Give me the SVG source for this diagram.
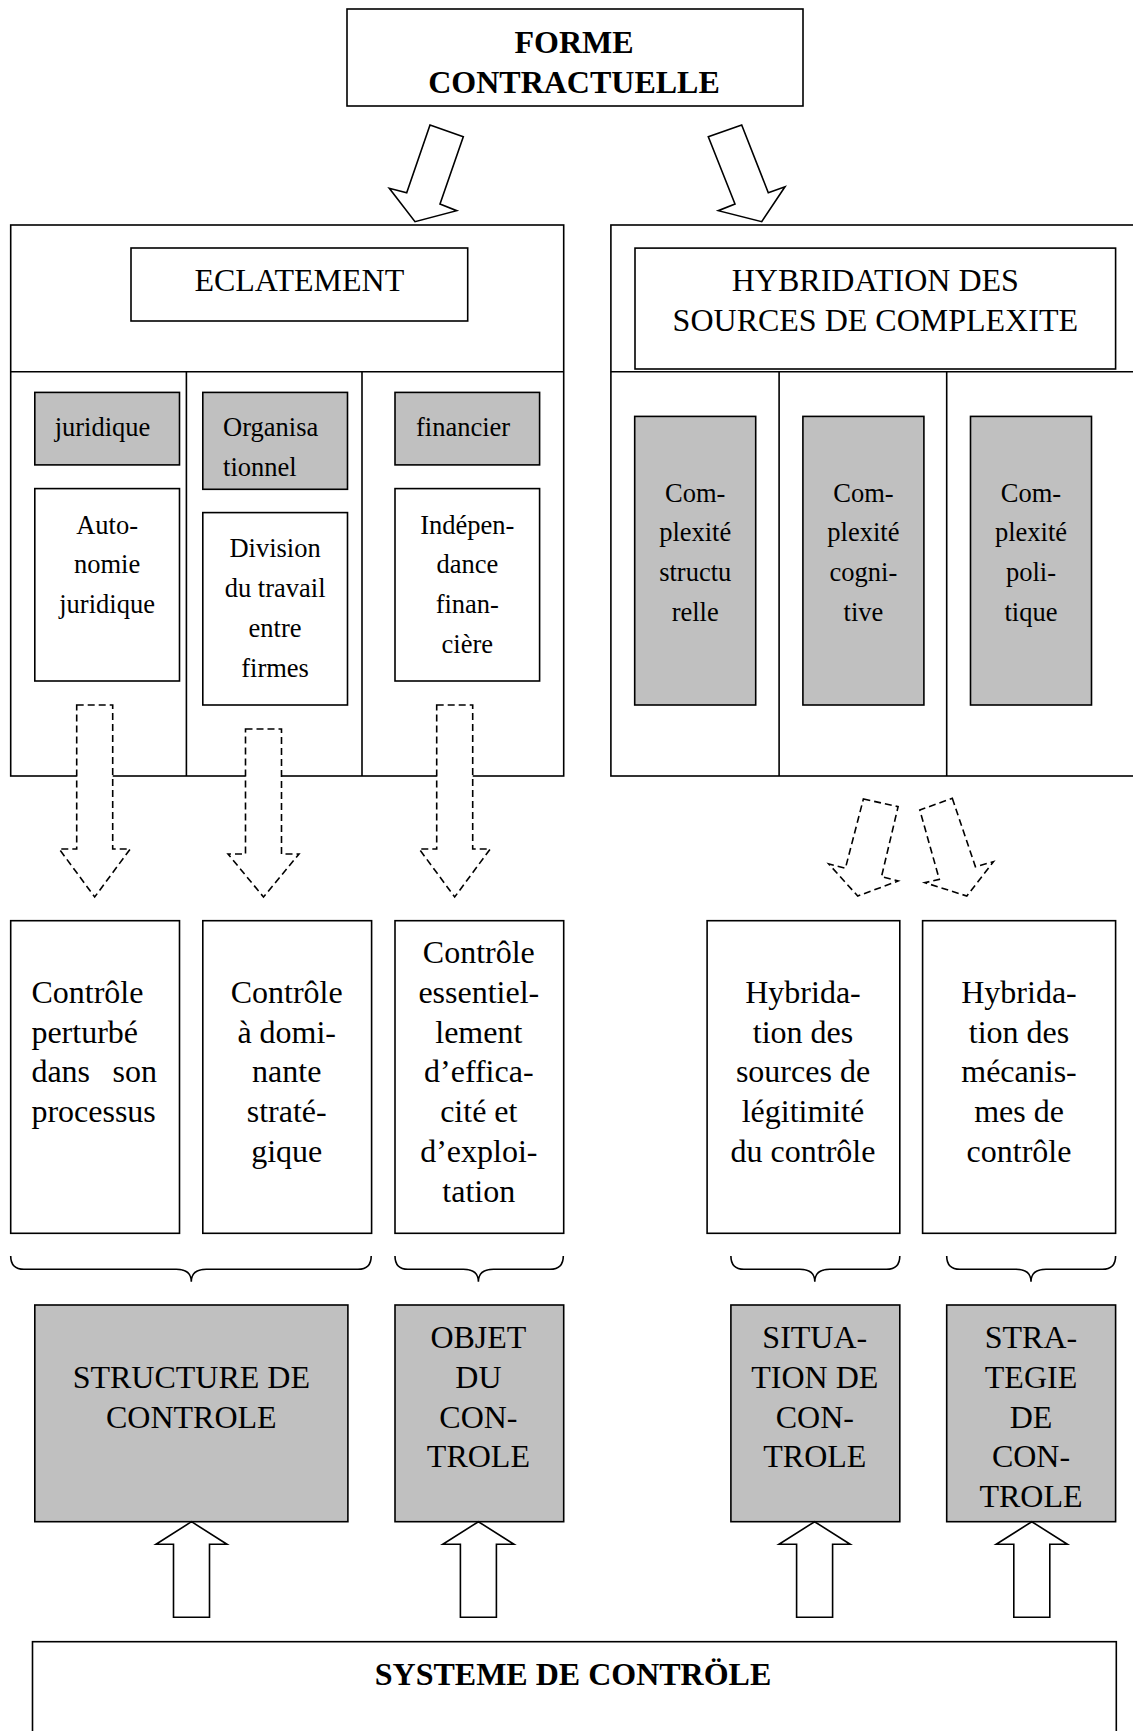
<svg xmlns="http://www.w3.org/2000/svg" width="1133" height="1731" viewBox="0 0 1133 1731">
<style>
.box{fill:#fff;stroke:#000;stroke-width:1.6}
.gray{fill:#c0c0c0;stroke:#000;stroke-width:1.6}
.ln{stroke:#000;stroke-width:1.6;fill:none}
.t{font-family:"Liberation Serif","Times New Roman",serif;font-size:26.5px;fill:#000}
.L{font-size:32px}
.b{font-weight:bold}
.c{text-anchor:middle}
.e{text-anchor:end}
.arrow{fill:#fff;stroke:#000;stroke-width:1.6;stroke-linejoin:miter}
.dash{fill:#fff;stroke:#000;stroke-width:1.6;stroke-dasharray:7 4}
.brace{fill:none;stroke:#000;stroke-width:1.6}
</style>
<rect width="1133" height="1731" fill="#fff"/>

<g id="forme">
<rect class="box" x="347" y="9" width="456" height="97"/>
<text class="t L b c" x="574" y="53">FORME</text>
<text class="t L b c" x="574" y="93">CONTRACTUELLE</text>
</g>

<g id="eclatement-panel">
<rect class="box" x="10.7" y="225" width="553" height="551"/>
<line class="ln" x1="10.7" y1="371.7" x2="563.7" y2="371.7"/>
<line class="ln" x1="186.4" y1="371.7" x2="186.4" y2="776"/>
<line class="ln" x1="362" y1="371.7" x2="362" y2="776"/>
</g>
<g id="eclatement">
<rect class="box" x="131" y="248" width="336.7" height="73"/>
<text class="t L c" x="299.3" y="290.6">ECLATEMENT</text>
</g>
<g id="juridique">
<rect class="gray" x="34.8" y="392.4" width="144.7" height="72.5"/>
<text class="t" x="54.7" y="436.4">juridique</text>
</g>
<g id="organisationnel">
<rect class="gray" x="202.8" y="392.4" width="144.7" height="96.9"/>
<text class="t" x="223.1" y="436.4">Organisa</text>
<text class="t" x="223.1" y="476.4">tionnel</text>
</g>
<g id="financier">
<rect class="gray" x="395" y="392.4" width="144.6" height="72.5"/>
<text class="t" x="416" y="436.4">financier</text>
</g>
<g id="autonomie">
<rect class="box" x="34.8" y="488.6" width="144.7" height="192.4"/>
<text class="t c" x="107.1" y="533.7">Auto-</text>
<text class="t c" x="107.1" y="573.3">nomie</text>
<text class="t c" x="107.1" y="612.9">juridique</text>
</g>
<g id="division">
<rect class="box" x="202.8" y="512.6" width="144.7" height="192.4"/>
<text class="t c" x="275.1" y="557">Division</text>
<text class="t c" x="275.1" y="596.7">du travail</text>
<text class="t c" x="275.1" y="636.9">entre</text>
<text class="t c" x="275.1" y="676.9">firmes</text>
</g>
<g id="independance">
<rect class="box" x="395" y="488.6" width="144.6" height="192.4"/>
<text class="t c" x="467.3" y="533.7">Indépen-</text>
<text class="t c" x="467.3" y="573.3">dance</text>
<text class="t c" x="467.3" y="612.9">finan-</text>
<text class="t c" x="467.3" y="652.5">cière</text>
</g>

<g id="hybridation-panel">
<rect class="box" x="610.9" y="225" width="540" height="551"/>
<line class="ln" x1="610.9" y1="371.7" x2="1140" y2="371.7"/>
<line class="ln" x1="779.1" y1="371.7" x2="779.1" y2="776"/>
<line class="ln" x1="946.7" y1="371.7" x2="946.7" y2="776"/>
</g>
<g id="hybridation">
<rect class="box" x="635" y="248.1" width="480.6" height="120.9"/>
<text class="t L c" x="875.3" y="290.6">HYBRIDATION DES</text>
<text class="t L c" x="875.3" y="331.3">SOURCES DE COMPLEXITE</text>
</g>
<g id="complexite-structurelle">
<rect class="gray" x="634.7" y="416.4" width="121" height="288.6"/>
<text class="t c" x="695.2" y="501.5">Com-</text>
<text class="t c" x="695.2" y="541.2">plexité</text>
<text class="t c" x="695.2" y="580.9">structu</text>
<text class="t c" x="695.2" y="620.6">relle</text>
</g>
<g id="complexite-cognitive">
<rect class="gray" x="802.9" y="416.4" width="121" height="288.6"/>
<text class="t c" x="863.4" y="501.5">Com-</text>
<text class="t c" x="863.4" y="541.2">plexité</text>
<text class="t c" x="863.4" y="580.9">cogni-</text>
<text class="t c" x="863.4" y="620.6">tive</text>
</g>
<g id="complexite-politique">
<rect class="gray" x="970.5" y="416.4" width="121" height="288.6"/>
<text class="t c" x="1031" y="501.5">Com-</text>
<text class="t c" x="1031" y="541.2">plexité</text>
<text class="t c" x="1031" y="580.9">poli-</text>
<text class="t c" x="1031" y="620.6">tique</text>
</g>

<g id="controle-perturbe">
<rect class="box" x="10.7" y="920.7" width="168.8" height="312.6"/>
<text class="t L" x="31.4" y="1003">Contrôle</text>
<text class="t L" x="31.4" y="1042.7">perturbé</text>
<text class="t L" x="31.4" y="1082.4">dans</text>
<text class="t L e" x="157" y="1082.4">son</text>
<text class="t L" x="31.4" y="1122.1">processus</text>
</g>
<g id="controle-strategique">
<rect class="box" x="202.8" y="920.7" width="168.8" height="312.6"/>
<text class="t L c" x="286.7" y="1003">Contrôle</text>
<text class="t L c" x="286.7" y="1042.7">à domi-</text>
<text class="t L c" x="286.7" y="1082.4">nante</text>
<text class="t L c" x="286.7" y="1122.1">straté-</text>
<text class="t L c" x="286.7" y="1161.8">gique</text>
</g>
<g id="controle-efficacite">
<rect class="box" x="395" y="920.7" width="168.7" height="312.6"/>
<text class="t L c" x="478.8" y="963.3">Contrôle</text>
<text class="t L c" x="478.8" y="1003">essentiel-</text>
<text class="t L c" x="478.8" y="1042.7">lement</text>
<text class="t L c" x="478.8" y="1082.4">d’effica-</text>
<text class="t L c" x="478.8" y="1122.1">cité et</text>
<text class="t L c" x="478.8" y="1161.8">d’exploi-</text>
<text class="t L c" x="478.8" y="1201.5">tation</text>
</g>
<g id="hybridation-legitimite">
<rect class="box" x="707.1" y="920.7" width="192.7" height="312.6"/>
<text class="t L c" x="803" y="1003">Hybrida-</text>
<text class="t L c" x="803" y="1042.7">tion des</text>
<text class="t L c" x="803" y="1082.4">sources de</text>
<text class="t L c" x="803" y="1122.1">légitimité</text>
<text class="t L c" x="803" y="1161.8">du contrôle</text>
</g>
<g id="hybridation-mecanismes">
<rect class="box" x="922.6" y="920.7" width="193" height="312.6"/>
<text class="t L c" x="1019" y="1003">Hybrida-</text>
<text class="t L c" x="1019" y="1042.7">tion des</text>
<text class="t L c" x="1019" y="1082.4">mécanis-</text>
<text class="t L c" x="1019" y="1122.1">mes de</text>
<text class="t L c" x="1019" y="1161.8">contrôle</text>
</g>

<g id="structure-controle">
<rect class="gray" x="34.8" y="1305" width="313.1" height="216.7"/>
<text class="t L c" x="191.3" y="1388.3">STRUCTURE DE</text>
<text class="t L c" x="191.3" y="1428">CONTROLE</text>
</g>
<g id="objet-controle">
<rect class="gray" x="395" y="1305" width="168.7" height="216.7"/>
<text class="t L c" x="478.4" y="1348.3">OBJET</text>
<text class="t L c" x="478.4" y="1388">DU</text>
<text class="t L c" x="478.4" y="1427.7">CON-</text>
<text class="t L c" x="478.4" y="1467.4">TROLE</text>
</g>
<g id="situation-controle">
<rect class="gray" x="730.9" y="1305" width="168.9" height="216.7"/>
<text class="t L c" x="814.8" y="1348.3">SITUA-</text>
<text class="t L c" x="814.8" y="1388">TION DE</text>
<text class="t L c" x="814.8" y="1427.7">CON-</text>
<text class="t L c" x="814.8" y="1467.4">TROLE</text>
</g>
<g id="strategie-controle">
<rect class="gray" x="946.7" y="1305" width="168.9" height="216.7"/>
<text class="t L c" x="1031" y="1348.3">STRA-</text>
<text class="t L c" x="1031" y="1388">TEGIE</text>
<text class="t L c" x="1031" y="1427.7">DE</text>
<text class="t L c" x="1031" y="1467.4">CON-</text>
<text class="t L c" x="1031" y="1507.1">TROLE</text>
</g>

<g id="systeme-controle">
<rect class="box" x="32.5" y="1641.7" width="1083.8" height="100"/>
<text class="t L b c" x="573" y="1685">SYSTEME DE CONTRÖLE</text>
</g>

<g id="connectors">
<polygon class="arrow" points="430,125 463.3,136.7 440,204 456.7,210.7 415,221.7 389.3,188.3 406.7,192.7"/>
<polygon class="arrow" points="741.7,125 768.3,192.7 785,186.7 761.7,221.7 718.3,210.7 735,204 708.3,136.7"/>

<polygon class="dash" points="76.7,705 112.7,705 112.7,849 130.2,849 94.7,897 59.2,849 76.7,849"/>
<polygon class="dash" points="245.5,729 281.5,729 281.5,854 299,854 263.5,897 228,854 245.5,854"/>
<polygon class="dash" points="436.7,705 472.7,705 472.7,849 490.2,849 454.7,897 419.2,849 436.7,849"/>

<polygon class="dash" points="863.4,799 898.1,806.7 881.5,876.7 898.1,881 857.7,896 828.8,864 845.4,868.3"/>
<polygon class="dash" points="952.3,798.3 975.4,866.7 993.5,861.7 966.8,896 924.9,882.7 939.3,879.3 919.8,810"/>

<polygon class="arrow" points="191.5,1521.7 227,1544.3 209.5,1544.3 209.5,1617.3 173.5,1617.3 173.5,1544.3 156,1544.3"/>
<polygon class="arrow" points="478.4,1521.7 514,1544.3 496.4,1544.3 496.4,1617.3 460.4,1617.3 460.4,1544.3 442.8,1544.3"/>
<polygon class="arrow" points="814.6,1521.7 850.2,1544.3 832.6,1544.3 832.6,1617.3 796.6,1617.3 796.6,1544.3 779,1544.3"/>
<polygon class="arrow" points="1031.8,1521.7 1067.4,1544.3 1049.8,1544.3 1049.8,1617.3 1013.8,1617.3 1013.8,1544.3 996.2,1544.3"/>
</g>

<g id="braces">
<path class="brace" d="M10.7,1256 Q10.7,1269.3 24,1269.3 L176.3,1269.3 Q191.3,1269.3 191.3,1281.7 Q191.3,1269.3 206.3,1269.3 L358,1269.3 Q371.2,1269.3 371.2,1256"/>
<path class="brace" d="M395,1256 Q395,1269.3 408,1269.3 L463.4,1269.3 Q478.4,1269.3 478.4,1281.7 Q478.4,1269.3 493.4,1269.3 L550,1269.3 Q563.3,1269.3 563.3,1256"/>
<path class="brace" d="M730.9,1256 Q730.9,1269.3 744,1269.3 L799.8,1269.3 Q814.8,1269.3 814.8,1281.7 Q814.8,1269.3 829.8,1269.3 L886.5,1269.3 Q899.8,1269.3 899.8,1256"/>
<path class="brace" d="M946.7,1256 Q946.7,1269.3 960,1269.3 L1016,1269.3 Q1031,1269.3 1031,1281.7 Q1031,1269.3 1046,1269.3 L1102.3,1269.3 Q1115.6,1269.3 1115.6,1256"/>
</g>
</svg>
